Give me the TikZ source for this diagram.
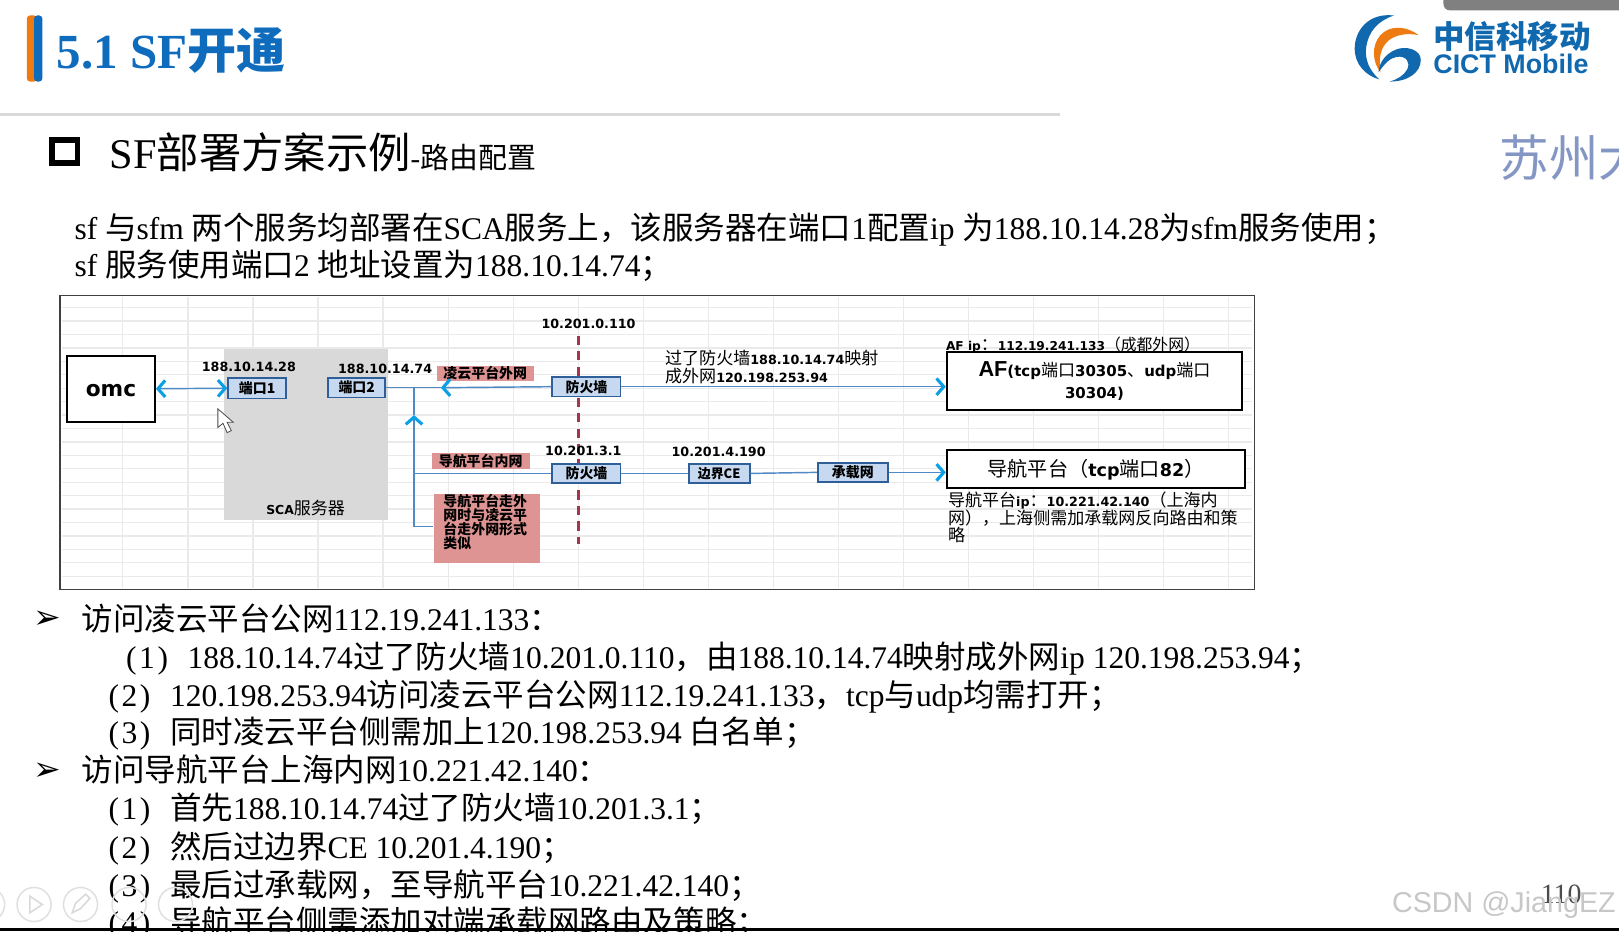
\documentclass[tikz,border=0pt]{standalone}
\usepackage{fontspec}
\usetikzlibrary{arrows.meta}
\setmainfont{Liberation Serif}
\newfontfamily\cjk{Noto Sans CJK SC}
\newfontfamily\diag{DejaVu Sans}
\newfontfamily\lat{Liberation Sans}
\newcommand{\zh}[1]{{\cjk #1}}
\newcommand{\sz}[1]{\fontsize{#1}{#1}\selectfont}
% Chinese inside the small notes of the table runs larger than the digits
\newcommand{\zn}[1]{{\cjk\mdseries\sz{16.5}#1}}
\newcommand{\itemno}[1]{(\hspace{2.5pt}#1\hspace{2.5pt})\hspace{19pt}}
\definecolor{titleblue}{HTML}{0F6CBD}
\definecolor{logoblue}{HTML}{1068AE}
\definecolor{logoorange}{HTML}{EE7A12}
\definecolor{gridgray}{HTML}{EAEAEA}
\definecolor{linkblue}{HTML}{4F8AC4}
\definecolor{tipblue}{HTML}{0AA0E6}
\definecolor{portfill}{HTML}{C6D9F1}
\definecolor{portdraw}{HTML}{2F5F98}
\definecolor{pinkfill}{HTML}{DE9493}
\definecolor{cutred}{HTML}{A5344F}
\definecolor{szblue}{HTML}{8496C4}
\tikzset{
  tipc/.tip={Straight Barb[color=tipblue,length=7pt,width=16pt,line width=3pt]},
  link/.style={linkblue,line width=1.4pt},
  port/.style={draw=portdraw,fill=portfill,line width=1.8pt,inner sep=0pt,font=\cjk\bfseries\sz{13.5}},
  pink/.style={fill=pinkfill,inner sep=0pt,font=\cjk\bfseries\sz{13.5}},
  whitebox/.style={draw=black,fill=white,line width=2pt,inner sep=0pt},
  ip/.style={inner sep=0pt,font=\diag\bfseries\sz{12.3}},
  note/.style={inner sep=0pt,anchor=west,font=\diag\bfseries\sz{12.3}},
  body/.style={inner sep=0pt,anchor=base west,font=\sz{30.5}},
  bullet/.style={inner sep=0pt,font=\diag\sz{32}},
  btn/.style={draw=black!12,line width=1.5pt,circle,minimum size=33pt,inner sep=0pt}
}
\begin{document}
\begin{tikzpicture}[x=1pt,y=-1pt]
\useasboundingbox (0,0) rectangle (1568,901.7);
% head of the slide
\fill[black!50,rounded corners=6pt] (1398,-10) rectangle (1600,10);
\fill[logoorange,rounded corners=3pt] (26,15) rectangle (36,79);
\fill[titleblue,rounded corners=3pt] (33,15) rectangle (41,79);
\node[inner sep=0pt,anchor=west,text=titleblue,font=\bfseries\sz{47.5}] (title) at (55,49) {5.1 SF\zh{开通}};
\draw[black!15,line width=3pt] (0,111) -- (1027,111);
\draw[black,line width=5.5pt] (50.5,135.5) rectangle (75,158);
\node[inner sep=0pt,anchor=west,font=\sz{41}] (headline) at (106,147.5) {SF\zh{部署方案示例}\sz{28}-\zh{路由配置}};
\node[inner sep=0pt,anchor=west,text=szblue,font=\cjk\sz{48}] (suzhou) at (1452,153) {苏州大};
% logo
\fill[logoblue] (1350,15) .. controls (1325,12) and (1312,30) .. (1312,47) .. controls (1312,62) and (1322,73) .. (1336,77) .. controls (1326,68) and (1322,58) .. (1323,47) .. controls (1325,30) and (1335,20) .. (1350,15) -- cycle;
\fill[logoorange] (1374,34) .. controls (1362,25) and (1346,24) .. (1337,34) .. controls (1328,44) and (1329,60) .. (1337,70) .. controls (1335,56) and (1337,46) .. (1345,39) .. controls (1353,33) and (1364,32) .. (1374,34) -- cycle;
\fill[logoblue] (1346,79) .. controls (1364,79) and (1376,70) .. (1376,58) .. controls (1376,48) and (1362,44) .. (1352,48) .. controls (1342,52) and (1336,60) .. (1335,70) .. controls (1341,62) and (1346,56) .. (1353,55) .. controls (1362,54) and (1366,60) .. (1363,67) .. controls (1360,73) and (1353,77) .. (1346,79) -- cycle;
\node[inner sep=0pt,anchor=west,text=logoblue,font=\cjk\bfseries\sz{30.5}] (logozh) at (1388,35) {中信科移动};
\node[inner sep=0pt,anchor=west,text=logoblue,font=\lat\bfseries\sz{26}] (logoen) at (1388,62) {CICT Mobile};
% two lines above the table
\node[body] (introa) at (72,232) {sf \zh{与}sfm \zh{两个服务均部署在}SCA\zh{服务上，该服务器在端口}1\zh{配置}ip \zh{为}188.10.14.28\zh{为}sfm\zh{服务使用；}};
\node[body] (introb) at (72,268) {sf \zh{服务使用端口}2 \zh{地址设置为}188.10.14.74\zh{；}};
% the table behind the picture
\fill[white] (58,286) rectangle (1215,571);
\foreach \y in {298,311,...,565} \draw[gridgray,line width=1.2pt] (60,\y) -- (1213,\y);
\foreach \x in {119,182,...,1210} \draw[gridgray,line width=1.2pt] (\x,288) -- (\x,569);
\draw[black!75,line width=1.4pt] (58,286) rectangle (1215,571);
% server
\fill[black!15] (217,338) rectangle (376,504);
\node[inner sep=0pt,font=\diag\bfseries\sz{12}] (sca) at (296,492) {SCA\zn{服务器}};
\draw[cutred,line width=2.6pt,dash pattern=on 9pt off 6pt] (560,325) -- (560,527);
\node[whitebox,minimum width=85pt,minimum height=64pt,text height=16pt,font=\diag\bfseries\sz{21}] (omc) at (107.5,376.5) {omc};
\node[port,minimum width=56pt,minimum height=20pt] (port1) at (249,376) {端口1};
\node[port,minimum width=55pt,minimum height=19pt] (port2) at (345.5,375.5) {端口2};
\node[port,minimum width=66pt,minimum height=19pt] (wall1) at (568,374.5) {防火墙};
\node[port,minimum width=66pt,minimum height=19pt] (wall2) at (568,458.5) {防火墙};
\node[port,minimum width=59pt,minimum height=19pt,font=\cjk\bfseries\sz{12.5}] (edge) at (696.5,458.5) {边界CE};
\node[port,minimum width=68pt,minimum height=19pt] (bearer) at (826,457.5) {承载网};
\node[whitebox,minimum width=286pt,minimum height=56pt,align=center,font=\diag\bfseries\sz{14.5}] (af) at (1060,369) {{\lat\sz{21}AF}(tcp\zn{端口}30305\zn{、}udp\zn{端口}\\[6pt]30304)};
\node[whitebox,minimum width=289pt,minimum height=37pt,font=\diag\bfseries\sz{17}] (nav) at (1061.5,454.5) {{\cjk\mdseries\sz{19.5}导航平台（}tcp{\cjk\mdseries\sz{19.5}端口}82{\cjk\mdseries\sz{19.5}）}};
\node[pink,minimum width=94pt,minimum height=15pt] (cloudnet) at (470,361.5) {凌云平台外网};
\node[pink,minimum width=95pt,minimum height=15pt] (navnet) at (465.5,446.5) {导航平台内网};
\node[pink,minimum width=103pt,minimum height=67pt,align=left,text width=84pt] (navout) at (471.5,511.5) {导航平台走外\\网时与凌云平\\台走外网形式\\类似\\\mbox{}};
% addresses
\node[ip] (ipa) at (241,355) {188.10.14.28};
\node[ip] (ipb) at (373,357) {188.10.14.74};
\node[ip] (ipc) at (570,314) {10.201.0.110};
\node[ip] (ipd) at (565,437) {10.201.3.1};
\node[ip] (ipe) at (696,438) {10.201.4.190};
\node[note] (mapa) at (644,347) {\zn{过了防火墙}188.10.14.74\zn{映射}};
\node[note] (mapb) at (644,364) {\zn{成外网}120.198.253.94};
\node[note,font=\diag\bfseries\sz{11.8}] (afip) at (916,334) {AF ip\zn{：}112.19.241.133{\cjk\mdseries\sz{15.3}（成都外网）}};
\node[note] (navipa) at (918,485) {\zn{导航平台}ip\zn{：}10.221.42.140\zn{（上海内}};
\node[note] (navipb) at (918,502) {\zn{网），上海侧需加承载网反向路由和策}};
\node[note] (navipc) at (918,518) {\zn{略}};
% links
\coordinate (turn) at (401,375.5);
\coordinate (tipa) at (427,375.5);
\coordinate (up) at (401,402);
\coordinate (navturn) at (401,458.5);
\coordinate (outturn) at (401,510);
\draw[link,{tipc}-{tipc}] (omc.east) -- (port1.west);
\draw[link] (port2.east) -- (tipa);
\draw[link,-{tipc}] (wall1.west) -- (tipa);
\draw[link,-{tipc}] (wall1.east) -- (wall1.east -| af.west);
\draw[link,-{tipc}] (outturn) -- (up);
\draw[link] (up) -- (turn);
\draw[link] (outturn) -- (navout.west |- outturn);
\draw[link] (navturn) -- (wall2.west);
\draw[link] (wall2.east) -- (edge.west);
\draw[link] (edge.east) -- (bearer.west);
\draw[link,-{tipc}] (bearer.east) -- (bearer.east -| nav.west);
% mouse pointer
\draw[black!70,fill=white,line width=.8pt] (211,396) -- (211,414) -- (216,410) -- (220,419) -- (224,417) -- (220,409) -- (226,409) -- cycle;
% list under the table
\node[bullet] (marka) at (46,600) {➢};
\node[body] (lista) at (79,611) {\zh{访问凌云平台公网}112.19.241.133\zh{：}};
\node[body] (listb) at (122,647) {\itemno{1}188.10.14.74\zh{过了防火墙}10.201.0.110\zh{，由}188.10.14.74\zh{映射成外网}ip 120.198.253.94\zh{；}};
\node[body] (listc) at (105,684) {\itemno{2}120.198.253.94\zh{访问凌云平台公网}112.19.241.133\zh{，}tcp\zh{与}udp\zh{均需打开；}};
\node[body] (listd) at (105,720) {\itemno{3}\zh{同时凌云平台侧需加上}120.198.253.94 \zh{白名单；}};
\node[bullet] (markb) at (46,747) {➢};
\node[body] (liste) at (79,757) {\zh{访问导航平台上海内网}10.221.42.140\zh{：}};
\node[body] (listf) at (105,794) {\itemno{1}\zh{首先}188.10.14.74\zh{过了防火墙}10.201.3.1\zh{；}};
\node[body] (listg) at (105,831) {\itemno{2}\zh{然后过边界}CE 10.201.4.190\zh{；}};
\node[body] (listh) at (105,868) {\itemno{3}\zh{最后过承载网，至导航平台}10.221.42.140\zh{；}};
\node[body] (listi) at (105,904) {\itemno{4}\zh{导航平台侧需添加对端承载网路由及策略；}};
% player buttons, number and mark at the foot
\foreach \x/\n in {-12/a,33/b,78/c,125/d,170/e} \node[btn] (btn\n) at (\x,876) {};
\draw[black!15,line width=1.5pt] (29,868) -- (29,884) -- (41,876) -- cycle;
\draw[black!15,line width=1.5pt] (70,884) -- (73,875) -- (83,866) -- (87,870) -- (78,880) -- cycle;
\node[inner sep=0pt,text=black!70,font=\sz{27}] (page) at (1512,866) {110};
\node[inner sep=0pt,anchor=west,text=black!22,font=\lat\sz{27.8}] (mark) at (1348,877) {CSDN @JiangEZ};
\fill[black] (0,898.5) rectangle (1568,902);
\end{tikzpicture}
\end{document}
